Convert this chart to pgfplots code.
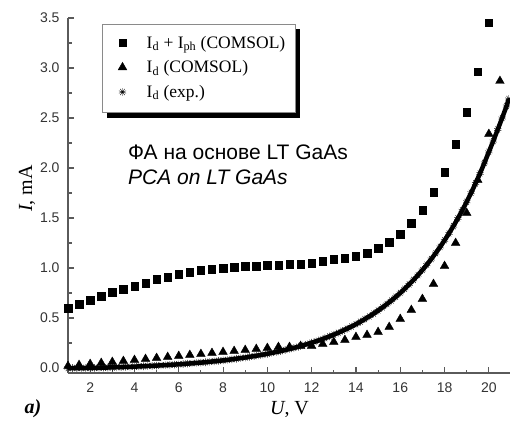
\documentclass[border=0pt]{standalone}
\usepackage{pgfplots}
\usepackage{pgfplotstable}
\pgfplotsset{compat=1.18}
\usepackage{fontspec}
\setmainfont{Liberation Serif}
\newfontfamily\arial{Liberation Sans}
\usetikzlibrary{plotmarks}
\definecolor{axgray}{HTML}{5A5A5A}
\definecolor{tickgray}{HTML}{333333}
\definecolor{framegray}{HTML}{8A8A8A}

\pgfplotstableread{
x y
1 0.60
1.5 0.64
2 0.68
2.5 0.72
3 0.76
3.5 0.79
4 0.82
4.5 0.85
5 0.89
5.5 0.91
6 0.94
6.5 0.96
7 0.98
7.5 0.99
8 1.00
8.5 1.01
9 1.02
9.5 1.02
10 1.03
10.5 1.03
11 1.04
11.5 1.04
12 1.05
12.5 1.07
13 1.09
13.5 1.10
14 1.12
14.5 1.15
15 1.20
15.5 1.26
16 1.34
16.5 1.45
17 1.58
17.5 1.76
18 1.96
18.5 2.24
19 2.56
19.5 2.96
20 3.45
}\sqdata

\pgfplotstableread{
x y
1 0.02
1.5 0.03
2 0.04
2.5 0.05
3 0.06
3.5 0.07
4 0.08
4.5 0.09
5 0.10
5.5 0.11
6 0.12
6.5 0.13
7 0.14
7.5 0.15
8 0.16
8.5 0.17
9 0.18
9.5 0.19
10 0.20
10.5 0.21
11 0.21
11.5 0.22
12 0.22
12.5 0.24
13 0.26
13.5 0.28
14 0.31
14.5 0.33
15 0.36
15.5 0.41
16 0.49
16.5 0.58
17 0.69
17.5 0.84
18 1.02
18.5 1.25
19 1.55
19.5 1.88
20 2.34
20.5 2.87
}\tridata

\pgfplotstableread{
x y
1.0 0.000
1.2 0.000
1.4 0.000
1.6 0.000
1.8 0.000
2.0 0.001
2.2 0.001
2.4 0.002
2.6 0.004
2.8 0.005
3.0 0.006
3.2 0.008
3.4 0.009
3.6 0.011
3.8 0.012
4.0 0.014
4.2 0.016
4.4 0.018
4.6 0.020
4.8 0.022
5.0 0.024
5.2 0.027
5.4 0.029
5.6 0.032
5.8 0.034
6.0 0.037
6.2 0.040
6.4 0.044
6.6 0.047
6.8 0.051
7.0 0.054
7.2 0.058
7.4 0.062
7.6 0.067
7.8 0.071
8.0 0.076
8.2 0.081
8.4 0.087
8.6 0.093
8.8 0.099
9.0 0.105
9.2 0.112
9.4 0.119
9.6 0.126
9.8 0.134
10.0 0.142
10.2 0.151
10.4 0.160
10.6 0.169
10.8 0.180
11.0 0.190
11.2 0.201
11.4 0.213
11.6 0.226
11.8 0.239
12.0 0.253
12.2 0.267
12.4 0.282
12.6 0.299
12.8 0.316
13.0 0.333
13.2 0.352
13.4 0.372
13.6 0.393
13.8 0.415
14.0 0.438
14.2 0.463
14.4 0.489
14.6 0.516
14.8 0.544
15.0 0.575
15.2 0.606
15.4 0.640
15.6 0.675
15.8 0.712
16.0 0.751
16.2 0.792
16.4 0.836
16.6 0.881
16.8 0.929
17.0 0.980
17.2 1.033
17.4 1.090
17.6 1.149
17.8 1.211
18.0 1.277
18.2 1.346
18.4 1.419
18.6 1.496
18.8 1.577
19.0 1.662
19.2 1.752
19.4 1.846
19.6 1.946
19.8 2.051
20.0 2.161
20.2 2.270
20.4 2.385
20.6 2.500
20.8 2.620
20.9 2.690
}\expdata

\begin{document}
\begin{tikzpicture}
\useasboundingbox (0,0) rectangle (510pt,421pt);
\begin{axis}[
  at={(68pt,48pt)}, anchor=south west,
  width=443pt, height=355pt, scale only axis,
  xmin=1, xmax=21, ymin=-0.05, ymax=3.5,
  axis x line=bottom, axis y line=left,
  axis line style={-, draw=axgray, line width=1.4pt},
  tick align=inside,
  major tick length=6pt, minor tick length=3.5pt,
  every tick/.style={axgray, line width=1.1pt},
  xtick={2,4,...,20}, minor xtick={3,5,...,21},
  ytick={0,0.5,...,3.5}, minor ytick={0.25,0.75,...,3.25},
  /pgf/number format/assume math mode=true,
  ticklabel style={font=\arial\fontsize{14}{16}\selectfont, text=tickgray},
  yticklabel style={/pgf/number format/fixed, /pgf/number format/precision=1, /pgf/number format/fixed zerofill, xshift=-5pt},
  xticklabel style={yshift=-6pt},
  xlabel={\textit{U}, V},
  ylabel={\textit{I}, mA},
  label style={font=\fontsize{20}{24}\selectfont},
  xlabel style={at={(axis description cs:0.5,0)}, anchor=center, yshift=-36pt},
  ylabel style={at={([xshift=-41pt]axis description cs:0,0.52)}, anchor=center},
  legend style={at={(0.077,0.984)}, anchor=north west, draw=none, fill=none,
    font=\fontsize{17.5}{19}\selectfont, row sep=7pt, inner ysep=10pt, inner xsep=3pt},
  legend cell align=left,
  legend image code/.code={\draw[#1] plot coordinates {(0pt,0pt)}; \path (-17pt,0pt) (22pt,0pt);},
  clip=false,
]
\addplot[only marks, mark=square*, mark size=3.7pt, black] table {\sqdata};
\addlegendentry{I\textsubscript{d} + I\textsubscript{ph} (COMSOL)}
\addplot[only marks, mark=triangle*, mark size=5pt, black] table {\tridata};
\addlegendentry{I\textsubscript{d} (COMSOL)}
\addplot[black, line width=4.5pt, forget plot] table {\expdata};
\addplot[only marks, mark=10-pointed star, mark size=3.8pt, black, mark options={fill=black}] table {\expdata};
\addlegendentry{I\textsubscript{d} (exp.)}
\end{axis}
% legend frame and its drop shadow, drawn after the axis
\path[fill=black] (295pt,303.5pt) rectangle (299.5pt,391.5pt);
\path[fill=black] (106.5pt,303.5pt) rectangle (299.5pt,308pt);
\path[draw=framegray, line width=1pt] (102pt,308pt) rectangle (295pt,396pt);
\node[anchor=west, align=left, inner sep=0pt, font=\arial\fontsize{21}{25}\selectfont] at (128pt,256pt) {ФА на основе LT GaAs\\\textit{PCA on LT GaAs}};
\node[inner sep=0pt, font=\fontsize{20}{22}\selectfont\bfseries\itshape] at (33pt,12pt) {a)};
\end{tikzpicture}
\end{document}
